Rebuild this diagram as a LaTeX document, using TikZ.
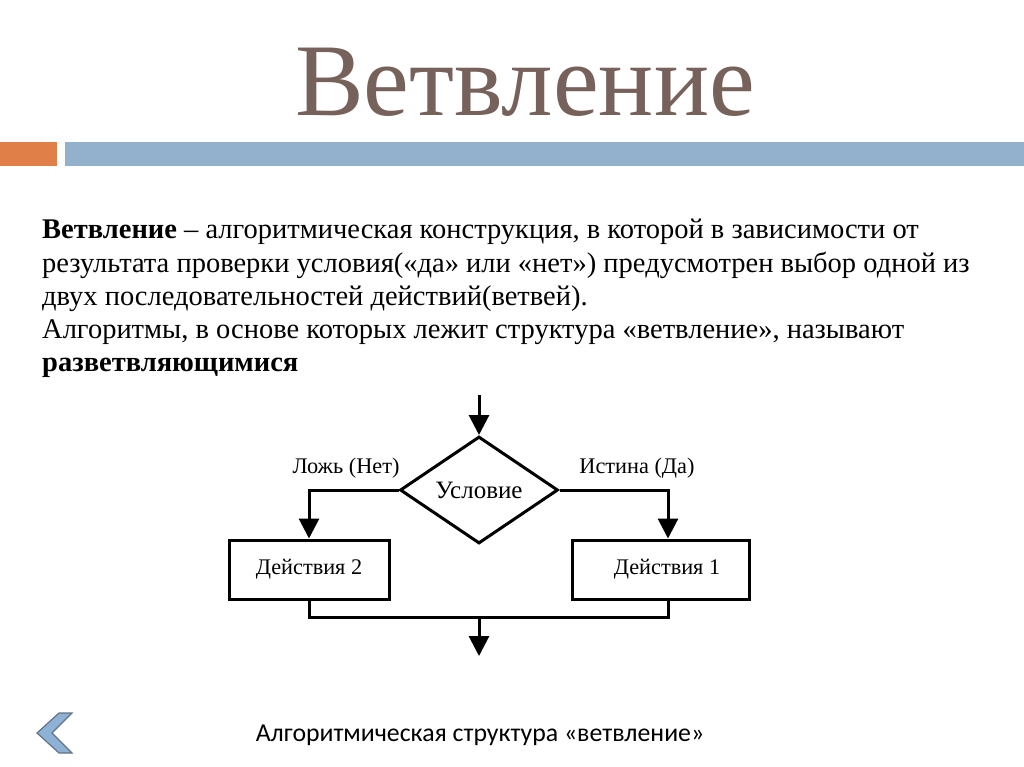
\documentclass[tikz,border=0pt]{standalone}
\usepackage{fontspec}
\setmainfont{Liberation Serif}
\newfontfamily\footfont{Carlito}
\usetikzlibrary{shapes.geometric,arrows.meta}
\definecolor{titlebrown}{RGB}{118,98,90}
\definecolor{barorange}{RGB}{224,128,72}
\definecolor{barblue}{RGB}{147,177,205}
\definecolor{navfill}{RGB}{141,178,214}
\definecolor{navline}{RGB}{100,115,135}
\begin{document}
\begin{tikzpicture}[x=1pt, y=-1pt,
    every node/.style={inner sep=0pt},
    txtline/.style={anchor=base west, font=\fontsize{28.5}{34}\selectfont},
    lbl/.style={font=\fontsize{22.3}{25}\selectfont},
    block/.style={draw, line width=3pt, minimum height=59pt, lbl},
    flow/.style={line width=3pt},
    arr/.style={flow, -{Triangle[length=20pt, width=20pt]}}]
    \useasboundingbox (0,0) rectangle (1024,767);

    % title and bars
    \node[anchor=base, font=\fontsize{103}{110}\selectfont, text=titlebrown] (title) at (525,116) {Ветвление};
    \fill[barorange] (0,142) rectangle (57,166);
    \fill[barblue] (65,142) rectangle (1024,166);

    % definition text
    \node[txtline] (l1) at (42,239) {\textbf{Ветвление} – алгоритмическая конструкция, в которой в зависимости от};
    \node[txtline] (l2) at (42,272) {результата проверки условия(«да» или «нет») предусмотрен выбор одной из};
    \node[txtline] (l3) at (42,305) {двух последовательностей действий(ветвей).};
    \node[txtline] (l4) at (42,338) {Алгоритмы, в основе которых лежит структура «ветвление», называют};
    \node[txtline] (l5) at (42,371) {\textbf{разветвляющимися}};

    % flowchart
    \coordinate (in) at (479,395);
    \node[diamond, draw, line width=3pt, minimum width=158pt, minimum height=107pt,
          font=\fontsize{25}{28}\selectfont] (cond) at (479,490) {Условие};
    \node[block, minimum width=160pt] (act2) at (309,569.5) {Действия 2};
    \node[block, minimum width=177pt] (act1) at (660.5,569.5) {\hspace{13pt}Действия 1};
    \node[lbl] (no) at (346,468) {Ложь (Нет)};
    \node[lbl] (yes) at (637,468) {Истина (Да)};
    \coordinate (join) at (479,617);
    \coordinate (out) at (479,656);

    \draw[arr] (in) -- (cond.north);
    \draw[arr] (cond.west) -| (act2.north);
    \draw[arr] (cond.east) -| ([xshift=7.5pt]act1.north);
    \draw[flow] (act2.south) |- (join) -| ([xshift=7.5pt]act1.south);
    \draw[arr] (join) -- (out);

    % footer
    \node[font=\footfont\fontsize{25.8}{30}\selectfont] (caption) at (480,735) {Алгоритмическая структура «ветвление»};
    \filldraw[fill=navfill, draw=navline, line width=1.2pt]
        (72,713) -- (59,713) -- (37,733) -- (59,753) -- (72,753) -- (52,733) -- cycle;
\end{tikzpicture}
\end{document}
